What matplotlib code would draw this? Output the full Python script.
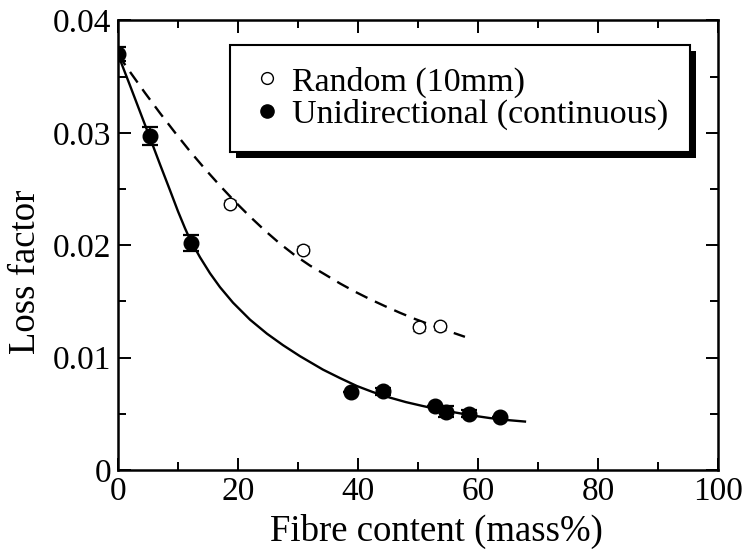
import matplotlib
matplotlib.use("Agg")
import matplotlib.pyplot as plt
from matplotlib.lines import Line2D
from matplotlib.patches import Rectangle
from matplotlib.ticker import MultipleLocator

plt.rcParams['font.family'] = ['Liberation Serif', 'DejaVu Serif']

# Unidirectional (continuous) data
uni_x = [0.0, 5.3, 12.2, 38.8, 44.1, 52.9, 54.6, 58.5, 63.7]
uni_y = [0.0370, 0.0297, 0.0202, 0.0069, 0.0070, 0.0057, 0.0052, 0.0050, 0.0047]
uni_err = [0.0006, 0.0008, 0.0007, 0.0, 0.0003, 0.0, 0.0005, 0.0003, 0.0]

# Random (10mm) data
ran_x = [18.7, 30.9, 50.2, 53.7]
ran_y = [0.0237, 0.0196, 0.0127, 0.0128]
ran_err = [0.0003, 0.0003, 0.0003, 0.0003]

# Trend curves
uni_fit_x = [0.0, 2.0, 4.0, 5.33, 7.0, 8.67, 10.0, 11.17, 12.0, 13.67, 15.33, 17.0,
             19.17, 22.0, 24.83, 27.5, 30.33, 34.17, 37.0, 39.83, 42.5, 45.33, 48.0,
             50.83, 53.67, 56.5, 59.17, 62.0, 65.0, 67.83]
uni_fit_y = [0.03698, 0.03422, 0.03142, 0.02956, 0.02720, 0.02489, 0.02302, 0.02151,
             0.02053, 0.01893, 0.01751, 0.01627, 0.01489, 0.01338, 0.01213, 0.01111,
             0.01013, 0.00893, 0.00818, 0.00747, 0.00693, 0.00644, 0.00604, 0.00569,
             0.00536, 0.00509, 0.00484, 0.00462, 0.00444, 0.00431]
ran_fit_x = [0.0, 2.0, 4.5, 7.0, 9.5, 12.0, 14.5, 17.0, 19.5, 22.0, 24.5, 27.0, 29.5,
             32.0, 34.5, 37.0, 39.5, 42.0, 44.5, 47.0, 49.5, 52.0, 54.5, 57.83]
ran_fit_y = [0.03698, 0.03543, 0.03356, 0.03176, 0.03003, 0.02836, 0.02679, 0.02530,
             0.02388, 0.02255, 0.02130, 0.02014, 0.01910, 0.01819, 0.01740, 0.01660,
             0.01587, 0.01520, 0.01458, 0.01399, 0.01344, 0.01294, 0.01246, 0.01185]

x_ticks = [0, 20, 40, 60, 80, 100]
x_labels = ["0", "20", "40", "60", "80", "100"]
y_ticks = [0, 0.01, 0.02, 0.03, 0.04]
y_labels = ["0", "0.01", "0.02", "0.03", "0.04"]

fig = plt.figure(figsize=(7.43, 5.57), dpi=100)
ax = fig.add_axes([0.1588, 0.1562, 0.8075, 0.807])

ax.plot(ran_fit_x, ran_fit_y, color='black', lw=1.7, ls=(0, (5.5, 3.5)), zorder=2)
ax.plot(uni_fit_x, uni_fit_y, color='black', lw=1.7, ls='-', zorder=2)

ax.errorbar(ran_x, ran_y, yerr=ran_err, fmt='o', ms=9, mfc='white', mec='black',
            mew=1.0, ecolor='black', elinewidth=1.0, capsize=4, capthick=1.3, zorder=3)
ax.errorbar(uni_x, uni_y, yerr=uni_err, fmt='o', ms=10.5, mfc='black', mec='black',
            ecolor='black', elinewidth=1.3, capsize=6, capthick=1.6, zorder=4)

ax.set_xlim(0, 100)
ax.set_ylim(0, 0.04)
ax.set_xticks(x_ticks)
ax.set_xticklabels(x_labels)
ax.set_yticks(y_ticks)
ax.set_yticklabels(y_labels)
ax.xaxis.set_minor_locator(MultipleLocator(10))
ax.yaxis.set_minor_locator(MultipleLocator(0.005))
ax.tick_params(which='both', direction='in', top=True, right=True, labelsize=24,
               width=1.4, pad=5)
ax.tick_params(which='major', length=9)
ax.tick_params(which='minor', length=5.5)
for s in ax.spines.values():
    s.set_linewidth(1.8)

ax.set_xlabel("Fibre content (mass%)", fontsize=26.5)
ax.set_ylabel("Loss factor", fontsize=26.5)
ax.xaxis.set_label_coords(0.53, -0.098)
ax.yaxis.set_label_coords(-0.125, 0.44)

handles = [Line2D([], [], ls='none', marker='o', ms=8.5, mfc='white', mec='black', mew=1.0),
           Line2D([], [], ls='none', marker='o', ms=9.5, mfc='black', mec='black')]
leg = ax.legend(handles, ["Random (10mm)", "Unidirectional (continuous)"],
                loc='upper right', bbox_to_anchor=(0.953, 0.945), fontsize=24.5,
                frameon=True, fancybox=False, edgecolor='black', framealpha=1,
                shadow=False, handletextpad=0.3, handlelength=0.9,
                borderpad=0.62, labelspacing=0.05, borderaxespad=0)
leg.get_frame().set_linewidth(1.5)
leg.set_zorder(10)

# black offset shadow behind the legend box
fig.canvas.draw()
bb = leg.get_window_extent()
shadow = Rectangle((bb.x0 + 6, bb.y0 - 6), bb.width, bb.height, transform=None,
                   facecolor='black', edgecolor='none', zorder=9)
ax.add_artist(shadow)

fig.savefig("out.png", dpi=100)
